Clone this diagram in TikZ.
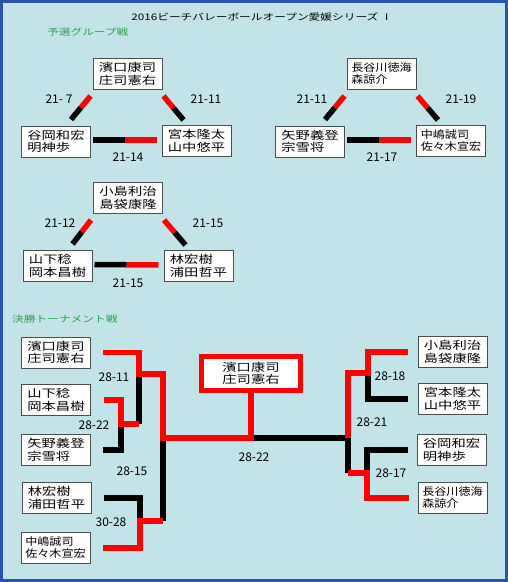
\documentclass[tikz,border=0pt]{standalone}
\usepackage{fontspec}
\newfontfamily\jp[FakeStretch=1.3]{Noto Sans CJK JP}
\newfontfamily\jpnarrow[FakeStretch=1.15]{Noto Sans CJK JP}
\newfontfamily\scorefont{Noto Sans CJK JP}
\usetikzlibrary{calc}
\definecolor{pool}{RGB}{194,228,232}
\definecolor{rim}{RGB}{40,85,170}
\definecolor{heading}{RGB}{45,160,75}
% bar between two players, winner half first
\newcommand{\duel}[2]{\draw[won] (#1) -- ($(#1)!.5!(#2)$); \draw[lost] ($(#1)!.5!(#2)$) -- (#2);}

\begin{document}
\begin{tikzpicture}[x=1pt, y=-1pt,
	team/.style={draw=black!70, fill=white, line width=1, align=left, minimum width=69, minimum height=31, inner sep=2, font=\jp\fontsize{11}{12.5}\selectfont},
	teamn/.style={team, font=\jpnarrow\fontsize{10.5}{12}\selectfont},
	champ/.style={team, draw=red, line width=5, minimum width=99, minimum height=34, align=center},
	score/.style={font=\scorefont\fontsize{12}{12}\selectfont, inner sep=0},
	heading/.style={font=\jp\fontsize{9}{9}\selectfont, inner sep=0},
	won/.style={draw=red, line width=5.5},
	lost/.style={draw=black, line width=5.5}]
	\useasboundingbox (0,0) rectangle (508,582);
	\fill[pool] (0,0) rectangle (508,582);
	\draw[rim, line width=3] (1.5,1.5) rectangle (506,580.5);
	%Überschrift
	\node (title) [heading] at (262,17) {2016ビーチバレーボールオープン愛媛シリーズ Ⅰ};
	\node (prelim) [heading, text=heading, anchor=west] at (47,32) {予選グループ戦};
	\node (cup) [heading, text=heading, anchor=west] at (12,319.5) {決勝トーナメント戦};

	%Gruppe 1
	\node (g1t) [team] at (127.5,74) {濱口康司\\庄司憲右};
	\node (g1l) [team] at (56,141.5) {谷岡和宏\\明神歩};
	\node (g1r) [team] at (196.5,141) {宮本隆太\\山中悠平};
	\coordinate (g1tl) at ($(g1t.south west)+(-2,6)$);
	\coordinate (g1lt) at ($(g1l.north east)+(-20,-6)$);
	\coordinate (g1tr) at ($(g1t.south east)+(1,6)$);
	\coordinate (g1rt) at ($(g1r.north west)+(22,-5)$);
	\coordinate (g1lr) at ($(g1l.east)+(2,-1.5)$);
	\coordinate (g1rl) at ($(g1r.west)+(-5,-1)$);
	\duel{g1tl}{g1lt} \duel{g1tr}{g1rt} \duel{g1rl}{g1lr}
	\node (g1a) [score] at (59,99) {21- 7};
	\node (g1b) [score] at (206,99) {21-11};
	\node (g1c) [score] at (128,157) {21-14};

	%Gruppe 2
	\node (g2t) [teamn] at (381.5,74) {長谷川徳海\\森諒介};
	\node (g2l) [team] at (310,141.5) {矢野義登\\宗雪将};
	\node (g2r) [teamn] at (451,141) {中嶋誠司\\佐々木宣宏};
	\coordinate (g2tl) at ($(g2t.south west)+(-2,6)$);
	\coordinate (g2lt) at ($(g2l.north east)+(-20,-6)$);
	\coordinate (g2tr) at ($(g2t.south east)+(1,6)$);
	\coordinate (g2rt) at ($(g2r.north west)+(22,-5)$);
	\coordinate (g2lr) at ($(g2l.east)+(2,-1.5)$);
	\coordinate (g2rl) at ($(g2r.west)+(-5,-1)$);
	\duel{g2tl}{g2lt} \duel{g2tr}{g2rt} \duel{g2rl}{g2lr}
	\node (g2a) [score] at (312,99) {21-11};
	\node (g2b) [score] at (461,99) {21-19};
	\node (g2c) [score] at (382,157) {21-17};

	%Gruppe 3
	\node (g3t) [team] at (128,198) {小島利治\\島袋康隆};
	\node (g3l) [team] at (57.5,266) {山下稔\\岡本昌樹};
	\node (g3r) [team] at (198.5,266) {林宏樹\\浦田哲平};
	\coordinate (g3tl) at ($(g3t.south west)+(-2,6)$);
	\coordinate (g3lt) at ($(g3l.north east)+(-20,-6)$);
	\coordinate (g3tr) at ($(g3t.south east)+(1,6)$);
	\coordinate (g3rt) at ($(g3r.north west)+(22,-5)$);
	\coordinate (g3lr) at ($(g3l.east)+(2,-1.5)$);
	\coordinate (g3rl) at ($(g3r.west)+(-5,-1)$);
	\duel{g3tl}{g3lt} \duel{g3tr}{g3rt} \duel{g3rl}{g3lr}
	\node (g3a) [score] at (60,223) {21-12};
	\node (g3b) [score] at (208,223) {21-15};
	\node (g3c) [score] at (128,283) {21-15};

	%Turnier
	\node (f1) [team] at (56,352.5) {濱口康司\\庄司憲右};
	\node (f2) [team] at (56,400) {山下稔\\岡本昌樹};
	\node (f3) [team] at (56,450) {矢野義登\\宗雪将};
	\node (f4) [team] at (56.5,498) {林宏樹\\浦田哲平};
	\node (f5) [teamn] at (55.5,548) {中嶋誠司\\佐々木宣宏};
	\node (f6) [team] at (452.5,352) {小島利治\\島袋康隆};
	\node (f7) [team] at (452.5,399) {宮本隆太\\山中悠平};
	\node (f8) [team] at (451.5,450) {谷岡和宏\\明神歩};
	\node (f9) [teamn] at (452.5,498) {長谷川徳海\\森諒介};
	\node (fin) [champ] at (251,373.5) {濱口康司\\庄司憲右};
	\coordinate (qa) at (121,424);
	\coordinate (qb) at (139,374);
	\coordinate (qc) at (140,521);
	\coordinate (sl) at (163,438);
	\coordinate (sr) at (348,438);
	\coordinate (qd) at (368,373);
	\coordinate (qe) at (367,473);
	\draw[lost] ([xshift=12]f3.east) -| (qa);
	\draw[lost] (qb) -- (qb |- qa);
	\draw[lost] ([xshift=12]f4.east) -| (qc);
	\draw[lost] (sl) -- (sl |- qc);
	\draw[lost] ([xshift=-10]f7.west) -| (qd);
	\draw[lost] ([xshift=-9]f8.west) -| (qe);
	\draw[lost] (sr) -- (sr |- qe);
	\draw[lost] (sr) -- (sl -| fin);
	\draw[won] ([xshift=13]f2.east) -| (qa) -- (qa -| qb);
	\draw[won] ([xshift=12]f5.east) -| (qc) -- (qc -| sl);
	\draw[won] ([xshift=12]f1.east) -| (qb) -| (sl) -- (sl -| fin) -- (fin.south);
	\draw[won] ([xshift=-10]f6.west) -| (qd) -| (sr);
	\draw[won] ([xshift=-9]f9.west) -| (qe) -- (qe -| sr);
	\node (m1) [score] at (114,377) {28-11};
	\node (m2) [score] at (94,425) {28-22};
	\node (m3) [score] at (132,471) {28-15};
	\node (m4) [score] at (111,522) {30-28};
	\node (m5) [score] at (254,457) {28-22};
	\node (m6) [score] at (372,422) {28-21};
	\node (m7) [score] at (390,376) {28-18};
	\node (m8) [score] at (391,473) {28-17};
\end{tikzpicture}
\end{document}
